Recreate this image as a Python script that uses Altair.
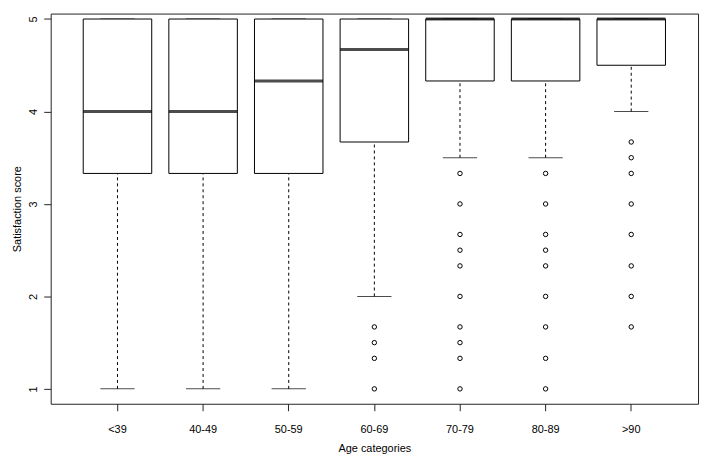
import altair as alt
import pandas as pd

# Box-plot summaries
categories = ["<39", "40-49", "50-59", "60-69", "70-79", "80-89", ">90"]
q1 = [3.33, 3.33, 3.33, 3.67, 4.33, 4.33, 4.5]
median = [4.0, 4.0, 4.33, 4.67, 5.0, 5.0, 5.0]
q3 = [5.0, 5.0, 5.0, 5.0, 5.0, 5.0, 5.0]
whisker_low = [1.0, 1.0, 1.0, 2.0, 3.5, 3.5, 4.0]
whisker_high = [5.0, 5.0, 5.0, 5.0, 5.0, 5.0, 5.0]

# Outliers per category
outliers = {
    "<39": [],
    "40-49": [],
    "50-59": [],
    "60-69": [1.67, 1.5, 1.33, 1.0],
    "70-79": [3.33, 3.0, 2.67, 2.5, 2.33, 2.0, 1.67, 1.5, 1.33, 1.0],
    "80-89": [3.33, 3.0, 2.67, 2.5, 2.33, 2.0, 1.67, 1.33, 1.0],
    ">90": [3.67, 3.5, 3.33, 3.0, 2.67, 2.33, 2.0, 1.67],
}

summary = pd.DataFrame({
    "cat": categories, "q1": q1, "median": median, "q3": q3,
    "lo": whisker_low, "hi": whisker_high,
})
out_rows = [{"cat": c, "value": v} for c in categories for v in outliers[c]]
out_df = pd.DataFrame(out_rows)

W, H = 652, 393
step = W / 7.56
band = 0.8 * step

FONT = "Liberation Sans"

xscale = alt.Scale(type="band", domain=categories, paddingInner=0.2, paddingOuter=0.38)
yscale = alt.Scale(domain=[0.839, 5.059], nice=False, zero=False)

xenc = alt.X("cat:N", scale=xscale, sort=categories,
             axis=alt.Axis(title="Age categories", labelAngle=0, tickSize=7,
                           labelPadding=13, titlePadding=8, domain=False,
                           grid=False, labelFontSize=11, titleFontSize=11,
                           titleFontWeight="normal", labelColor="black",
                           titleColor="black", tickColor="#222", labelFont=FONT,
                           titleFont=FONT))

base = alt.Chart(summary)

whisk_lo = base.mark_rule(color="black", strokeWidth=1, strokeDash=[3, 3]).encode(
    x=xenc,
    y=alt.Y("lo:Q", scale=yscale,
            axis=alt.Axis(title="Satisfaction score", values=[1, 2, 3, 4, 5],
                          tickSize=7, labelAngle=270, labelAlign="center",
                          labelBaseline="bottom", labelPadding=5, titlePadding=5,
                          domain=False, grid=False, labelFontSize=11,
                          titleFontSize=11, titleFontWeight="normal",
                          labelColor="black", titleColor="black",
                          tickColor="#222", labelFont=FONT, titleFont=FONT,
                          format="d")),
    y2="q1:Q",
)
whisk_hi = base.mark_rule(color="black", strokeWidth=1, strokeDash=[3, 3]).encode(
    x=xenc, y=alt.Y("q3:Q", scale=yscale), y2="hi:Q"
)
staple_lo = base.mark_tick(color="black", size=band / 2, thickness=1).encode(
    x=xenc, y=alt.Y("lo:Q", scale=yscale)
)
staple_hi = base.mark_tick(color="black", size=band / 2, thickness=1).encode(
    x=xenc, y=alt.Y("hi:Q", scale=yscale)
)
boxes = base.mark_bar(fill="white", stroke="black", strokeWidth=1).encode(
    x=xenc, y=alt.Y("q1:Q", scale=yscale), y2="q3:Q"
)
med = base.mark_tick(color="black", size=band, thickness=3).encode(
    x=xenc, y=alt.Y("median:Q", scale=yscale)
)
pts = alt.Chart(out_df).mark_point(shape="circle", filled=False, color="black",
                                   size=20, strokeWidth=1, opacity=1).encode(
    x=xenc, y=alt.Y("value:Q", scale=yscale)
)

chart = alt.layer(whisk_lo, whisk_hi, staple_lo, staple_hi, boxes, med, pts).properties(
    width=W, height=H,
    autosize=alt.AutoSizeParams(type="none"),
    padding={"left": 43, "top": 4, "right": 3, "bottom": 50},
).configure(
    background="white",
    view=alt.ViewConfig(stroke="#222", strokeWidth=1),
)

chart.save("out.html", embed_options={"renderer": "svg", "actions": False})
